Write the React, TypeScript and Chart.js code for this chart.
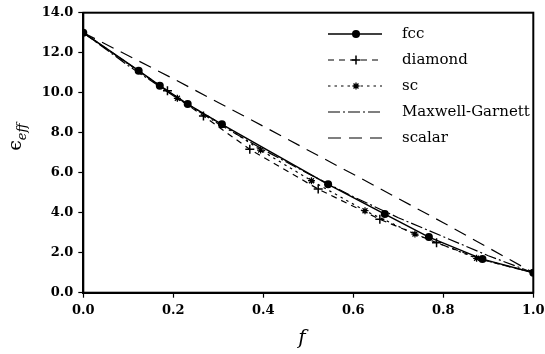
import React, { useEffect, useRef } from "react";
import { Chart, registerables } from "chart.js";

Chart.register(...registerables);

const seriesNames = ["fcc", "diamond", "sc", "Maxwell-Garnett", "scalar"];

const fccF = [0, 0.123, 0.17, 0.232, 0.308, 0.544, 0.67, 0.768, 0.887, 1.0];
const fccE = [13.0, 11.1, 10.35, 9.43, 8.42, 5.42, 3.93, 2.78, 1.68, 1.0];

const diamondF = [0, 0.187, 0.267, 0.37, 0.522, 0.659, 0.785, 0.89, 1.0];
const diamondE = [13.0, 10.1, 8.83, 7.17, 5.18, 3.67, 2.5, 1.63, 1.0];
const diamondMarks = [false, true, true, true, true, true, true, false, false];

const scF = [0, 0.209, 0.308, 0.394, 0.507, 0.626, 0.737, 0.874, 1.0];
const scE = [13.0, 9.72, 8.42, 7.13, 5.6, 4.1, 2.93, 1.72, 1.0];
const scMarks = [false, true, false, true, true, true, true, true, false];

const mgF = [0, 0.1, 0.2, 0.3, 0.4, 0.5, 0.6, 0.7, 0.8, 0.9, 1.0];
const mgE = [13.0, 11.35, 9.85, 8.45, 7.15, 5.95, 4.8, 3.75, 2.8, 1.85, 1.0];

const scalarF = [0, 0.2, 0.4, 0.6, 0.8, 1.0];
const scalarE = [13.0, 10.7, 8.32, 5.92, 3.5, 1.0];

const xTicks = [0, 0.2, 0.4, 0.6, 0.8, 1.0];
const yTicks = [0, 2, 4, 6, 8, 10, 12, 14];

const pts = (xs: number[], ys: number[]) => xs.map((x, i) => ({ x, y: ys[i] }));

function drawMark(ctx: CanvasRenderingContext2D, mark: string, x: number, y: number) {
  ctx.save();
  ctx.fillStyle = "#000";
  ctx.strokeStyle = "#000";
  if (mark === "circle") {
    ctx.beginPath();
    ctx.arc(x, y, 4, 0, Math.PI * 2);
    ctx.fill();
  } else if (mark === "cross") {
    ctx.lineWidth = 1.5;
    ctx.beginPath();
    ctx.moveTo(x - 4.5, y);
    ctx.lineTo(x + 4.5, y);
    ctx.moveTo(x, y - 4.5);
    ctx.lineTo(x, y + 4.5);
    ctx.stroke();
  } else if (mark === "star") {
    ctx.lineWidth = 1.3;
    ctx.beginPath();
    for (let k = 0; k < 4; k++) {
      const a = (k * Math.PI) / 4;
      ctx.moveTo(x - 3.5 * Math.cos(a), y - 3.5 * Math.sin(a));
      ctx.lineTo(x + 3.5 * Math.cos(a), y + 3.5 * Math.sin(a));
    }
    ctx.stroke();
  }
  ctx.restore();
}

const legendPlugin = {
  id: "customLegend",
  afterDatasetsDraw(chart: any) {
    const ctx = chart.ctx;
    const rows = [34, 60, 86, 112, 138];
    const styles = [
      { dash: [], w: 1.5, mark: "circle" },
      { dash: [6, 5], w: 1.2, mark: "cross" },
      { dash: [2.5, 4], w: 1.2, mark: "star" },
      { dash: [12, 3, 2, 3], w: 1.2, mark: "" },
      { dash: [13, 8], w: 1.2, mark: "" },
    ];
    const x0 = 328, x1 = 382, xm = 356, xt = 402;
    ctx.save();
    styles.forEach((s, i) => {
      const y = rows[i];
      ctx.strokeStyle = "#000";
      ctx.lineWidth = s.w;
      ctx.setLineDash(s.dash);
      ctx.beginPath();
      ctx.moveTo(x0, y);
      ctx.lineTo(x1, y);
      ctx.stroke();
      ctx.setLineDash([]);
      if (s.mark) drawMark(ctx, s.mark, xm, y);
      ctx.fillStyle = "#000";
      ctx.font = "15px 'DejaVu Serif'";
      ctx.textBaseline = "middle";
      ctx.textAlign = "left";
      ctx.fillText(seriesNames[i], xt, y);
    });
    ctx.restore();
  },
};

const framePlugin = {
  id: "frameAndTitles",
  afterDraw(chart: any) {
    const { ctx, chartArea } = chart;
    ctx.save();
    ctx.strokeStyle = "#000";
    ctx.lineWidth = 2;
    ctx.setLineDash([]);
    ctx.strokeRect(chartArea.left, chartArea.top, chartArea.right - chartArea.left, chartArea.bottom - chartArea.top);
    ctx.fillStyle = "#000";
    ctx.font = "italic 20px 'DejaVu Serif'";
    ctx.textAlign = "center";
    ctx.textBaseline = "middle";
    ctx.fillText("f", 302, 339);
    ctx.translate(17, 137);
    ctx.rotate(-Math.PI / 2);
    ctx.textAlign = "left";
    ctx.textBaseline = "alphabetic";
    const mainFont = "19px 'DejaVu Serif'";
    const subFont = "italic 13px 'DejaVu Serif'";
    ctx.font = mainFont;
    const epsW = ctx.measureText("ϵ").width;
    ctx.font = subFont;
    const subW = ctx.measureText("eff").width;
    const total = epsW + subW;
    ctx.font = mainFont;
    ctx.fillText("ϵ", -total / 2, 4);
    ctx.font = subFont;
    ctx.fillText("eff", -total / 2 + epsW, 9);
    ctx.restore();
  },
};

export default function App() {
  const ref = useRef<HTMLCanvasElement | null>(null);
  useEffect(() => {
    document.body.style.margin = "0";
    if (!ref.current) return;
    const radii = (marks: boolean[], r: number) => marks.map((m) => (m ? r : 0));
    const chart = new Chart(ref.current, {
      type: "line",
      data: {
        datasets: [
          {
            label: seriesNames[4],
            data: pts(scalarF, scalarE),
            borderColor: "#000",
            borderWidth: 1.2,
            borderDash: [13, 8],
            pointRadius: 0,
            fill: false,
          },
          {
            label: seriesNames[3],
            data: pts(mgF, mgE),
            borderColor: "#000",
            borderWidth: 1.2,
            borderDash: [12, 3, 2, 3],
            pointRadius: 0,
            fill: false,
          },
          {
            label: seriesNames[2],
            data: pts(scF, scE),
            borderColor: "#000",
            borderWidth: 1.2,
            borderDash: [2.5, 4],
            pointStyle: "star",
            pointRadius: radii(scMarks, 3.5),
            pointBorderWidth: 1.3,
            pointBorderColor: "#000",
            pointBackgroundColor: "#000",
            fill: false,
          },
          {
            label: seriesNames[1],
            data: pts(diamondF, diamondE),
            borderColor: "#000",
            borderWidth: 1.2,
            borderDash: [6, 5],
            pointStyle: "cross",
            pointRadius: radii(diamondMarks, 4.5),
            pointBorderWidth: 1.5,
            pointBorderColor: "#000",
            pointBackgroundColor: "#000",
            fill: false,
          },
          {
            label: seriesNames[0],
            data: pts(fccF, fccE),
            borderColor: "#000",
            borderWidth: 1.5,
            pointStyle: "circle",
            pointRadius: 4,
            pointBorderWidth: 0,
            pointBackgroundColor: "#000",
            fill: false,
          },
        ],
      },
      options: {
        animation: false,
        responsive: true,
        maintainAspectRatio: false,
        layout: { padding: { left: 0, right: 11.7, top: 12.7, bottom: 0 } },
        plugins: {
          legend: { display: false },
          tooltip: { enabled: false },
        },
        elements: { line: { tension: 0 } },
        scales: {
          x: {
            type: "linear",
            min: 0,
            max: 1,
            afterBuildTicks: (axis: any) => {
              axis.ticks = xTicks.map((v) => ({ value: v }));
            },
            afterFit: (axis: any) => {
              axis.height = 61.3;
              axis.paddingLeft = 0;
              axis.paddingRight = 0;
            },
            grid: {
              display: true,
              drawOnChartArea: false,
              drawTicks: true,
              tickLength: 5,
              tickColor: "#000",
              tickWidth: 1.2,
            },
            border: { display: true, color: "#000", width: 2 },
            ticks: {
              color: "#000",
              padding: 5,
              maxRotation: 0,
              font: { family: "'DejaVu Serif'", size: 13, weight: "bold" },
              callback: (v: any) => Number(v).toFixed(1),
            },
          },
          y: {
            type: "linear",
            min: 0,
            max: 14,
            afterBuildTicks: (axis: any) => {
              axis.ticks = yTicks.map((v) => ({ value: v }));
            },
            afterFit: (axis: any) => {
              axis.width = 83.3;
              axis.paddingTop = 0;
              axis.paddingBottom = 0;
            },
            grid: {
              display: true,
              drawOnChartArea: false,
              drawTicks: true,
              tickLength: 5,
              tickColor: "#000",
              tickWidth: 1.2,
            },
            border: { display: true, color: "#000", width: 2 },
            ticks: {
              color: "#000",
              padding: 5,
              font: { family: "'DejaVu Serif'", size: 13, weight: "bold" },
              callback: (v: any) => Number(v).toFixed(1),
            },
          },
        },
      },
      plugins: [legendPlugin, framePlugin],
    } as any);
    return () => chart.destroy();
  }, []);
  return (
    <div style={{ position: "relative", width: 545, height: 354 }}>
      <canvas ref={ref} />
    </div>
  );
}
